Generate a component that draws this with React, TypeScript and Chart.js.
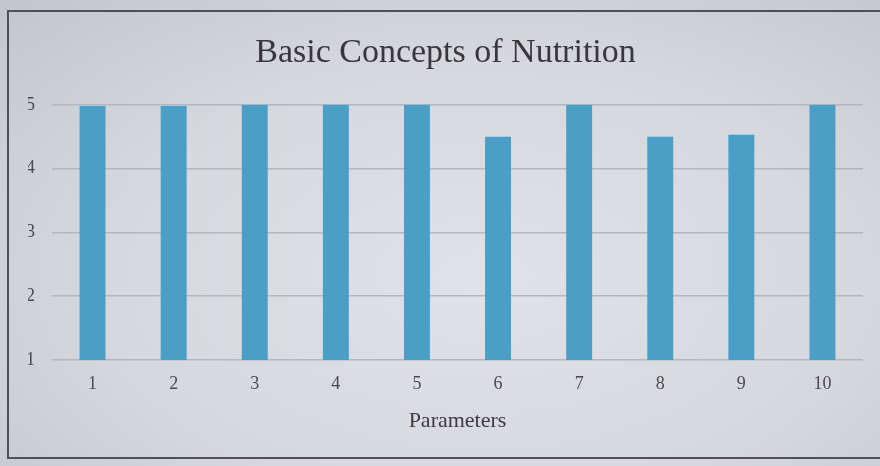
import React, { useEffect, useRef } from "react";
import { Chart, registerables } from "chart.js";

Chart.register(...registerables);

const categories = ["1", "2", "3", "4", "5", "6", "7", "8", "9", "10"];
const values = [4.98, 4.98, 5.0, 5.0, 5.0, 4.5, 5.0, 4.5, 4.53, 5.0];
const yTicks = [1, 2, 3, 4, 5];
const titleText = "Basic Concepts of Nutrition";
const xTitle = "Parameters";

export default function App() {
  const ref = useRef<HTMLCanvasElement>(null);

  useEffect(() => {
    if (!ref.current) return;
    const chart = new Chart(ref.current, {
      type: "bar",
      data: {
        labels: categories,
        datasets: [
          {
            data: values,
            backgroundColor: "#4b9ec6",
            borderWidth: 0,
            barPercentage: 0.32,
            categoryPercentage: 1,
          },
        ],
      },
      options: {
        animation: false,
        responsive: false,
        layout: { padding: { left: 28, right: 17, top: 0, bottom: 0 } },
        plugins: {
          legend: { display: false },
          tooltip: { enabled: false },
          title: {
            display: true,
            text: titleText,
            color: "#38383c",
            font: { family: "'Liberation Serif', 'Times New Roman', serif", size: 34, weight: "normal" },
            padding: { top: 33, bottom: 31 },
          },
        },
        scales: {
          x: {
            grid: { display: false, drawTicks: false },
            border: { display: false },
            ticks: {
              color: "#4a4a4e",
              padding: 13,
              font: { family: "'Liberation Serif', 'Times New Roman', serif", size: 18 },
            },
            title: {
              display: true,
              text: xTitle,
              color: "#3c3c40",
              padding: { top: 0, bottom: 32 },
              font: { family: "'Liberation Serif', 'Times New Roman', serif", size: 22 },
            },
          },
          y: {
            min: 1,
            max: 5,
            afterBuildTicks: (scale: any) => {
              scale.ticks = yTicks.map((v) => ({ value: v }));
            },
            afterFit: (scale: any) => {
              scale.width = 24;
            },
            grid: { color: "#b4b6bc", lineWidth: 1.5, drawTicks: false },
            border: { display: false },
            ticks: {
              color: "#4a4a4e",
              padding: 17,
              font: { family: "'Liberation Serif', 'Times New Roman', serif", size: 18 },
            },
          },
        },
      },
    });
    return () => chart.destroy();
  }, []);

  return (
    <div
      style={{
        position: "fixed",
        left: 0,
        top: 0,
        width: 880,
        height: 466,
        overflow: "hidden",
        background:
          "radial-gradient(ellipse at 55% 60%, #e1e2e7 0%, #d6d8de 55%, #c3c5cc 100%)",
      }}
    >
      <div
        style={{
          position: "absolute",
          left: 7,
          top: 10,
          width: 900,
          height: 449,
          border: "2px solid #4f4f55",
          boxSizing: "border-box",
        }}
      />
      <canvas
        ref={ref}
        width={880}
        height={466}
        style={{ position: "absolute", left: 0, top: 0, display: "block" }}
      />
    </div>
  );
}
